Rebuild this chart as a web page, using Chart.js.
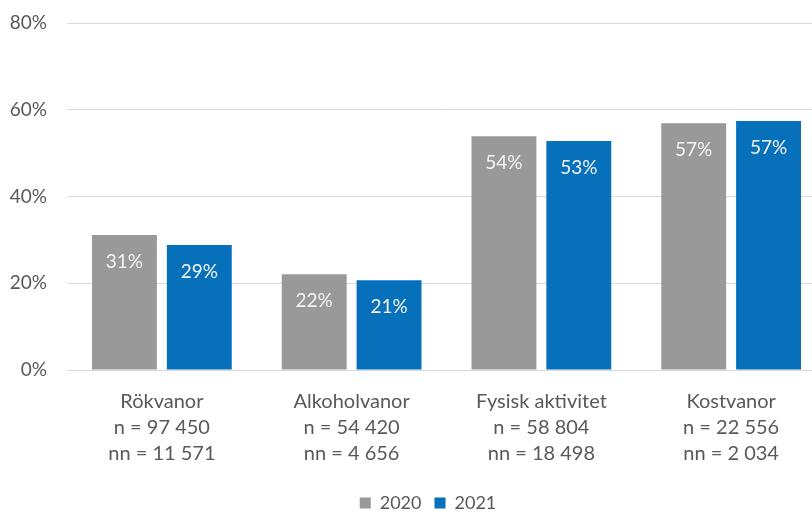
<!DOCTYPE html>
<html>
<head>
<meta charset="utf-8">
<script src="https://cdn.jsdelivr.net/npm/chart.js@4/dist/chart.umd.min.js"></script>
<style>
  html, body { margin: 0; padding: 0; background: #fff; overflow: hidden; }
  #wrap { width: 856px; height: 513px; }
</style>
</head>
<body>
<div id="wrap"><canvas id="chart" width="856" height="513"></canvas></div>
<script>
    const categories = [
        ['Rökvanor', 'n = 97 450', 'nn = 11 571'],
        ['Alkoholvanor', 'n = 54 420', 'nn = 4 656'],
        ['Fysisk aktivitet', 'n = 58 804', 'nn = 18 498'],
        ['Kostvanor', 'n = 22 556', 'nn = 2 034']
    ];
    const values2020 = [31.1, 22.1, 53.9, 56.9];
    const values2021 = [28.8, 20.7, 52.8, 57.4];
    const labels2020 = ['31%', '22%', '54%', '57%'];
    const labels2021 = ['29%', '21%', '53%', '57%'];
    const seriesNames = ['2020', '2021'];

    const FONT = 'Lato, "Open Sans", sans-serif';
    const TEXT = '#595959';

    // white value labels just inside the top of each bar
    const barLabels = {
        id: 'barLabels',
        afterDatasetsDraw(chart) {
            const ctx = chart.ctx;
            const texts = [labels2020, labels2021];
            ctx.save();
            ctx.font = '19px ' + FONT;
            ctx.fillStyle = '#f4f4f4';
            ctx.textAlign = 'center';
            ctx.textBaseline = 'middle';
            chart.data.datasets.forEach((ds, i) => {
                chart.getDatasetMeta(i).data.forEach((bar, j) => {
                    ctx.fillText(texts[i][j], bar.x, bar.y + 27);
                });
            });
            ctx.restore();
        }
    };

    // nudge the legend a bit right, the original sits off-centre
    const legendShift = {
        id: 'legendShift',
        afterLayout(chart) {
            if (!chart.legend) return;
            chart.legend.left += 15;
            chart.legend.right += 15;
        }
    };

    new Chart(document.getElementById('chart').getContext('2d'), {
        type: 'bar',
        data: {
            labels: categories,
            datasets: [{
                label: seriesNames[0],
                data: values2020,
                backgroundColor: '#999999',
                categoryPercentage: 0.789,
                barPercentage: 0.867
            }, {
                label: seriesNames[1],
                data: values2021,
                backgroundColor: '#0770ba',
                categoryPercentage: 0.789,
                barPercentage: 0.867
            }]
        },
        options: {
            responsive: false,
            animation: false,
            layout: { padding: { top: 23, right: 30, left: 0, bottom: -9 } },
            scales: {
                x: {
                    grid: { display: false },
                    border: { color: '#d9d9d9' },
                    afterFit: (scale) => { scale.height += 3; },
                    ticks: {
                        color: TEXT,
                        font: { family: FONT, size: 20, lineHeight: 1.3 },
                        padding: 11,
                        maxRotation: 0
                    }
                },
                y: {
                    min: 0,
                    max: 80,
                    grid: { color: '#d9d9d9', tickColor: 'rgba(0,0,0,0)', tickLength: 18 },
                    border: { display: false },
                    afterFit: (scale) => { scale.width = 67; },
                    ticks: {
                        stepSize: 20,
                        color: TEXT,
                        padding: 2,
                        font: { family: FONT, size: 19 },
                        callback: (v) => v + '%'
                    }
                }
            },
            plugins: {
                legend: {
                    position: 'bottom',
                    labels: {
                        color: TEXT,
                        boxWidth: 11,
                        boxHeight: 11,
                        padding: 13,
                        font: { family: FONT, size: 18 }
                    }
                },
                tooltip: { enabled: false }
            }
        },
        plugins: [barLabels, legendShift]
    });
</script>
</body>
</html>
